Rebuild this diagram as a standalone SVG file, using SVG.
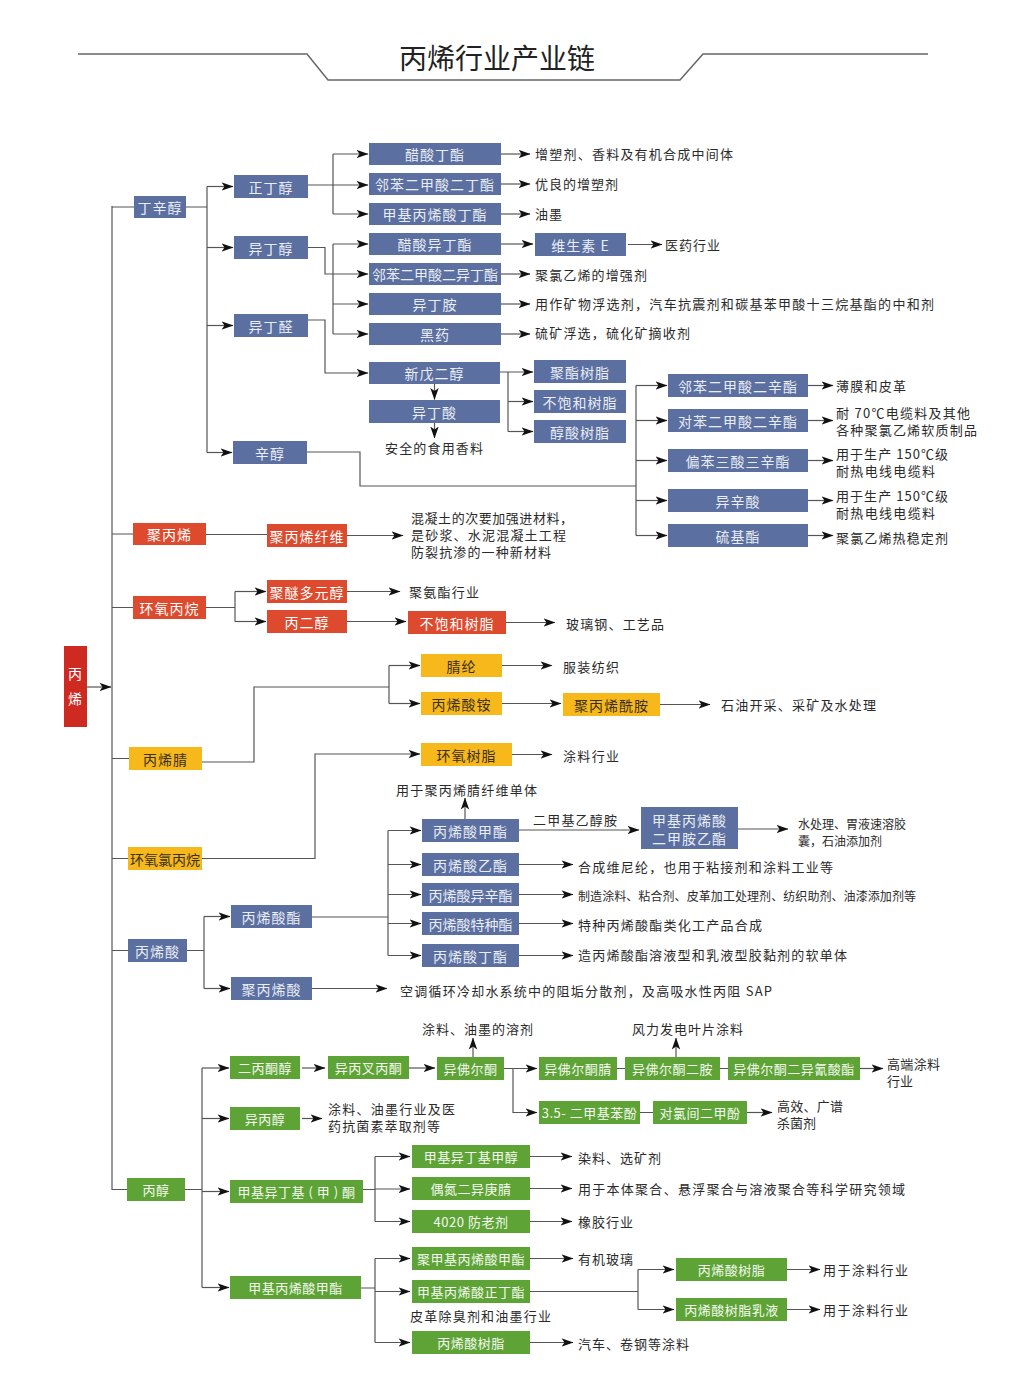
<svg xmlns="http://www.w3.org/2000/svg" width="1022" height="1400" viewBox="0 0 1022 1400">
<style>
text{font-family:"Noto Sans CJK SC","Noto Sans",sans-serif}
.nb rect{fill:#5b6fa0}.nb text{fill:#e9edf6}
.nr rect{fill:#de4a2d}.nr text{fill:#fff}
.ny rect{fill:#f6b81a}.ny text{fill:#3b3020}
.ng rect{fill:#5ea336}.ng text{fill:#f4faef}
.t{font-size:14px;text-anchor:middle;dominant-baseline:central;letter-spacing:1px}
.ng .t{font-size:13px;letter-spacing:0.5px}
.d{font-size:13px;fill:#2a2a2a;dominant-baseline:central}
.s{font-size:12px}
#connectors path{stroke:#555;stroke-width:1.2;fill:none}
#connectors .a{marker-end:url(#ah)}
</style>
<defs>
<marker id="ah" viewBox="0 0 12 10" refX="11.5" refY="5" markerWidth="12" markerHeight="10" markerUnits="userSpaceOnUse" orient="auto">
<path d="M0,0.8 L12,5 L0,9.2 L3,5 z" fill="#111"/>
</marker>
</defs>
<rect width="1022" height="1400" fill="#fff"/>
<g id="title">
<polyline points="78,54 307,54 328,80 680,80 703,54 928,54" fill="none" stroke="#666" stroke-width="1.5"/>
<text x="497" y="57" font-size="28" text-anchor="middle" dominant-baseline="central" fill="#222">丙烯行业产业链</text>
</g>
<g id="connectors">
<path class="a" d="M87,687 H111"/>
<path d="M112,206 V1190"/>
<path d="M112,207 H134 M112,534 H133 M112,607.5 H133 M112,758.5 H129 M112,858.5 H128 M112,950.5 H128 M112,1189.5 H127"/>
<path d="M186,207 H207 M207,186.5 V452.5"/>
<path class="a" d="M207,186.5 H233"/><path class="a" d="M207,247.5 H233"/><path class="a" d="M207,325.5 H233"/><path class="a" d="M207,452.5 H232"/>
<path class="a" d="M308,185 H368"/><path d="M333,154 V214"/><path class="a" d="M333,154 H368"/><path class="a" d="M333,214 H368"/>
<path class="a" d="M308,247.5 H325 V274 H368"/><path d="M333,244 V334"/><path class="a" d="M333,244 H368"/><path class="a" d="M333,304 H368"/><path class="a" d="M333,334 H368"/>
<path class="a" d="M308,320 H325 V373 H368"/>
<path class="a" d="M434.5,384 V399.5"/><path class="a" d="M434.5,423 V438"/>
<path class="a" d="M500,372 H533"/><path d="M508,372 V431.5"/><path class="a" d="M508,401.5 H533"/><path class="a" d="M508,431.5 H533"/>
<path d="M307,452 H360 V486 H636 M636,385.5 V535.5"/>
<path class="a" d="M636,385.5 H667"/><path class="a" d="M636,420.5 H667"/><path class="a" d="M636,460.5 H667"/><path class="a" d="M636,500.5 H667"/><path class="a" d="M636,535.5 H667"/>
<path class="a" d="M808,385.5 H833"/><path class="a" d="M808,420.5 H833"/><path class="a" d="M808,460.5 H833"/><path class="a" d="M808,500.5 H833"/><path class="a" d="M808,535.5 H833"/>
<path class="a" d="M501,154 H530"/><path class="a" d="M501,184 H530"/><path class="a" d="M501,214 H530"/><path class="a" d="M501,244 H533"/><path class="a" d="M501,274 H530"/><path class="a" d="M501,304 H530"/><path class="a" d="M501,334 H530"/>
<path class="a" d="M628,244.5 H662"/>
<path d="M206,534.5 H267"/><path class="a" d="M347,535.5 H403"/>
<path d="M206,607.5 H235 M235,591.5 V621.5"/><path class="a" d="M235,591.5 H266"/><path class="a" d="M235,621.5 H266"/>
<path class="a" d="M347,591.5 H400"/><path class="a" d="M347,621.5 H406"/><path class="a" d="M506,622.5 H555"/>
<path d="M202,762 H254 V687 H389 M389,665.5 V703.5"/><path class="a" d="M389,665.5 H420"/><path class="a" d="M389,703.5 H420"/>
<path class="a" d="M502,665.5 H552"/><path class="a" d="M502,703.5 H561"/><path class="a" d="M660,704.5 H710"/>
<path class="a" d="M202,858.5 H315 V754 H420"/><path class="a" d="M512,754.5 H552"/>
<path d="M187,950.5 H204 M204,916.5 V988.5"/><path class="a" d="M204,916.5 H230"/><path class="a" d="M204,988.5 H230"/>
<path d="M312,917 H388 M388,830.5 V955.5"/>
<path class="a" d="M388,830.5 H421"/><path class="a" d="M388,864.5 H421"/><path class="a" d="M388,894.5 H421"/><path class="a" d="M388,923.5 H421"/><path class="a" d="M388,955.5 H421"/>
<path class="a" d="M465,819 V798"/>
<path class="a" d="M519,830 H639"/><path class="a" d="M738,829 H788"/>
<path class="a" d="M519,864.5 H573"/><path class="a" d="M519,894.5 H573"/><path class="a" d="M519,923.5 H573"/><path class="a" d="M519,955.5 H573"/>
<path class="a" d="M312,988.5 H387"/>
<path d="M185,1189.5 H202 M202,1068 V1287.5"/>
<path class="a" d="M202,1068 H229"/><path class="a" d="M202,1118.5 H229"/><path class="a" d="M202,1191.5 H229"/><path class="a" d="M202,1287.5 H229"/>
<path class="a" d="M302,1068 H325"/><path class="a" d="M409,1068 H435"/>
<path class="a" d="M473,1057 V1038"/>
<path class="a" d="M504,1068.5 H537"/><path class="a" d="M513,1068.5 V1112.5 H537"/>
<path d="M617,1068.5 H625 M720,1068.5 H728 M640,1112.5 H653"/>
<path class="a" d="M676,1057 V1038"/>
<path class="a" d="M860,1068.5 H883"/><path class="a" d="M747,1112.5 H772"/>
<path class="a" d="M302,1118.5 H322"/>
<path d="M363,1189.5 H375 M375,1156.5 V1221.5"/>
<path class="a" d="M375,1156.5 H410"/><path class="a" d="M375,1189 H410"/><path class="a" d="M375,1221.5 H410"/>
<path class="a" d="M530,1156.5 H572"/><path class="a" d="M530,1188.5 H572"/><path class="a" d="M530,1221.5 H572"/>
<path d="M361,1288 H375 M375,1258.5 V1342.5"/>
<path class="a" d="M375,1258.5 H410"/><path class="a" d="M375,1291.5 H410"/><path class="a" d="M375,1342.5 H410"/>
<path class="a" d="M530,1258.5 H573"/><path class="a" d="M530,1342.5 H573"/>
<path d="M530,1291.5 H638 M638,1269.5 V1309.5"/><path class="a" d="M638,1269.5 H674"/><path class="a" d="M638,1309.5 H674"/>
<path class="a" d="M787,1269.5 H820"/><path class="a" d="M787,1309.5 H820"/>
</g>
<g id="n-propylene"><rect x="64" y="646" width="23" height="81" fill="#cf2a22"/><text class="t" x="75.5" y="673" fill="#fff">丙</text><text class="t" x="75.5" y="698" fill="#fff">烯</text></g>
<g id="n-dxc" class="nb"><rect x="134" y="196" width="52" height="22"/><text class="t" x="160" y="207">丁辛醇</text></g>
<g id="n-zdc" class="nb"><rect x="234" y="175" width="74" height="23"/><text class="t" x="271" y="186.5">正丁醇</text></g>
<g id="n-ydc" class="nb"><rect x="234" y="236" width="74" height="23"/><text class="t" x="271" y="247.5">异丁醇</text></g>
<g id="n-ydq" class="nb"><rect x="234" y="314" width="74" height="23"/><text class="t" x="271" y="325.5">异丁醛</text></g>
<g id="n-xc" class="nb"><rect x="233" y="441" width="74" height="23"/><text class="t" x="270" y="452.5">辛醇</text></g>
<g id="n-csdz" class="nb"><rect x="369" y="143" width="132" height="22"/><text class="t" x="435" y="154">醋酸丁酯</text></g>
<g id="n-lbdb" class="nb"><rect x="369" y="173" width="132" height="22"/><text class="t" x="435" y="184">邻苯二甲酸二丁酯</text></g>
<g id="n-jbbd" class="nb"><rect x="369" y="203" width="132" height="22"/><text class="t" x="435" y="214">甲基丙烯酸丁酯</text></g>
<g id="n-csyd" class="nb"><rect x="369" y="233" width="132" height="22"/><text class="t" x="435" y="244">醋酸异丁酯</text></g>
<g id="n-lbdyd" class="nb"><rect x="369" y="263" width="132" height="22"/><text class="t" x="435" y="274" style="letter-spacing:0">邻苯二甲酸二异丁酯</text></g>
<g id="n-yda" class="nb"><rect x="369" y="293" width="132" height="22"/><text class="t" x="435" y="304">异丁胺</text></g>
<g id="n-hy" class="nb"><rect x="369" y="323" width="132" height="22"/><text class="t" x="435" y="334">黑药</text></g>
<g id="n-xwec" class="nb"><rect x="369" y="362" width="131" height="22"/><text class="t" x="434.5" y="373">新戊二醇</text></g>
<g id="n-yds" class="nb"><rect x="369" y="400" width="131" height="23"/><text class="t" x="434.5" y="411.5">异丁酸</text></g>
<g id="n-wse" class="nb"><rect x="535" y="233" width="91" height="23"/><text class="t" x="580.5" y="244.5">维生素 E</text></g>
<g id="n-jzsz" class="nb"><rect x="534" y="360" width="92" height="23"/><text class="t" x="580" y="371.5">聚酯树脂</text></g>
<g id="n-bbh1" class="nb"><rect x="534" y="390" width="92" height="23"/><text class="t" x="580" y="401.5">不饱和树脂</text></g>
<g id="n-csh" class="nb"><rect x="534" y="420" width="92" height="23"/><text class="t" x="580" y="431.5">醇酸树脂</text></g>
<g id="n-dop" class="nb"><rect x="668" y="374" width="140" height="23"/><text class="t" x="738" y="385.5">邻苯二甲酸二辛酯</text></g>
<g id="n-dotp" class="nb"><rect x="668" y="409" width="140" height="23"/><text class="t" x="738" y="420.5">对苯二甲酸二辛酯</text></g>
<g id="n-totm" class="nb"><rect x="668" y="449" width="140" height="23"/><text class="t" x="738" y="460.5">偏苯三酸三辛酯</text></g>
<g id="n-yxs" class="nb"><rect x="668" y="489" width="140" height="23"/><text class="t" x="738" y="500.5">异辛酸</text></g>
<g id="n-ljz" class="nb"><rect x="668" y="524" width="140" height="23"/><text class="t" x="738" y="535.5">硫基酯</text></g>
<g id="n-jbx" class="nr"><rect x="133" y="523" width="73" height="22"/><text class="t" x="169.5" y="534">聚丙烯</text></g>
<g id="n-jbxxw" class="nr"><rect x="267" y="524" width="80" height="23"/><text class="t" x="307" y="535.5">聚丙烯纤维</text></g>
<g id="n-hybw" class="nr"><rect x="133" y="596" width="73" height="23"/><text class="t" x="169.5" y="607.5">环氧丙烷</text></g>
<g id="n-jmdy" class="nr"><rect x="267" y="580" width="80" height="23"/><text class="t" x="307" y="591.5">聚醚多元醇</text></g>
<g id="n-bec" class="nr"><rect x="267" y="610" width="80" height="23"/><text class="t" x="307" y="621.5">丙二醇</text></g>
<g id="n-bbh2" class="nr"><rect x="408" y="611" width="98" height="23"/><text class="t" x="457" y="622.5">不饱和树脂</text></g>
<g id="n-bxj" class="ny"><rect x="129" y="747" width="73" height="23"/><text class="t" x="165.5" y="758.5">丙烯腈</text></g>
<g id="n-hylbw" class="ny"><rect x="128" y="847" width="74" height="23"/><text class="t" x="165" y="858.5" style="letter-spacing:0">环氧氯丙烷</text></g>
<g id="n-jl" class="ny"><rect x="421" y="654" width="81" height="23"/><text class="t" x="461.5" y="665.5">腈纶</text></g>
<g id="n-bxsa" class="ny"><rect x="421" y="692" width="81" height="23"/><text class="t" x="461.5" y="703.5">丙烯酸铵</text></g>
<g id="n-jbxxa" class="ny"><rect x="563" y="693" width="97" height="23"/><text class="t" x="611.5" y="704.5">聚丙烯酰胺</text></g>
<g id="n-hysz" class="ny"><rect x="421" y="743" width="91" height="23"/><text class="t" x="466.5" y="754.5">环氧树脂</text></g>
<g id="n-bxs" class="nb"><rect x="128" y="939" width="59" height="23"/><text class="t" x="157.5" y="950.5">丙烯酸</text></g>
<g id="n-bxsz" class="nb"><rect x="231" y="905" width="81" height="23"/><text class="t" x="271.5" y="916.5">丙烯酸酯</text></g>
<g id="n-jbxs" class="nb"><rect x="231" y="977" width="81" height="23"/><text class="t" x="271.5" y="988.5">聚丙烯酸</text></g>
<g id="n-bxsjz" class="nb"><rect x="422" y="819" width="97" height="23"/><text class="t" x="470.5" y="830.5">丙烯酸甲酯</text></g>
<g id="n-bxsyz" class="nb"><rect x="422" y="853" width="97" height="23"/><text class="t" x="470.5" y="864.5">丙烯酸乙酯</text></g>
<g id="n-bxsyxz" class="nb"><rect x="422" y="883" width="97" height="23"/><text class="t" x="470.5" y="894.5" style="letter-spacing:0">丙烯酸异辛酯</text></g>
<g id="n-bxstzz" class="nb"><rect x="422" y="912" width="97" height="23"/><text class="t" x="470.5" y="923.5" style="letter-spacing:0">丙烯酸特种酯</text></g>
<g id="n-bxsdz" class="nb"><rect x="422" y="944" width="97" height="23"/><text class="t" x="470.5" y="955.5">丙烯酸丁酯</text></g>
<g id="n-dmaema" class="nb"><rect x="641" y="807" width="97" height="42"/><text class="t" x="689.5" y="819.5">甲基丙烯酸</text><text class="t" x="689.5" y="837.5">二甲胺乙酯</text></g>
<g id="n-bc" class="ng"><rect x="127" y="1178" width="58" height="23"/><text class="t" x="156" y="1189.5">丙醇</text></g>
<g id="n-ebtc" class="ng"><rect x="230" y="1056" width="70" height="23"/><text class="t" x="265" y="1067.5">二丙酮醇</text></g>
<g id="n-ybc" class="ng"><rect x="230" y="1107" width="70" height="23"/><text class="t" x="265" y="1118.5">异丙醇</text></g>
<g id="n-mibk" class="ng"><rect x="230" y="1180" width="133" height="23"/><text class="t" x="296.5" y="1191.5">甲基异丁基 ( 甲 ) 酮</text></g>
<g id="n-mma" class="ng"><rect x="230" y="1276" width="131" height="23"/><text class="t" x="295.5" y="1287.5">甲基丙烯酸甲酯</text></g>
<g id="n-ybcbt" class="ng"><rect x="328" y="1056" width="81" height="23"/><text class="t" x="368.5" y="1067.5">异丙叉丙酮</text></g>
<g id="n-yfet" class="ng"><rect x="437" y="1057" width="67" height="23"/><text class="t" x="470.5" y="1068.5">异佛尔酮</text></g>
<g id="n-yfetj" class="ng"><rect x="539" y="1057" width="78" height="23"/><text class="t" x="578" y="1068.5">异佛尔酮腈</text></g>
<g id="n-yfeta" class="ng"><rect x="625" y="1057" width="95" height="23"/><text class="t" x="672.5" y="1068.5">异佛尔酮二胺</text></g>
<g id="n-ipdi" class="ng"><rect x="728" y="1057" width="132" height="23"/><text class="t" x="794" y="1068.5">异佛尔酮二异氰酸酯</text></g>
<g id="n-dmp" class="ng"><rect x="539" y="1101" width="101" height="23"/><text class="t" x="589.5" y="1112.5">3.5- 二甲基苯酚</text></g>
<g id="n-pcmx" class="ng"><rect x="653" y="1101" width="94" height="23"/><text class="t" x="700" y="1112.5">对氯间二甲酚</text></g>
<g id="n-mibc" class="ng"><rect x="412" y="1145" width="118" height="23"/><text class="t" x="471" y="1156.5">甲基异丁基甲醇</text></g>
<g id="n-amvn" class="ng"><rect x="412" y="1177" width="118" height="23"/><text class="t" x="471" y="1188.5">偶氮二异庚腈</text></g>
<g id="n-4020" class="ng"><rect x="412" y="1210" width="118" height="23"/><text class="t" x="471" y="1221.5">4020 防老剂</text></g>
<g id="n-pmma" class="ng"><rect x="412" y="1247" width="118" height="23"/><text class="t" x="471" y="1258.5">聚甲基丙烯酸甲酯</text></g>
<g id="n-bma" class="ng"><rect x="412" y="1280" width="118" height="23"/><text class="t" x="471" y="1291.5">甲基丙烯酸正丁酯</text></g>
<g id="n-ar1" class="ng"><rect x="412" y="1331" width="118" height="23"/><text class="t" x="471" y="1342.5">丙烯酸树脂</text></g>
<g id="n-ar2" class="ng"><rect x="676" y="1258" width="111" height="23"/><text class="t" x="731.5" y="1269.5">丙烯酸树脂</text></g>
<g id="n-are" class="ng"><rect x="676" y="1298" width="111" height="23"/><text class="t" x="731.5" y="1309.5">丙烯酸树脂乳液</text></g>
<g id="labels">
<text class="d" x="535" y="153" textLength="198">增塑剂、香料及有机合成中间体</text>
<text class="d" x="535" y="183" textLength="83">优良的增塑剂</text>
<text class="d" x="535" y="213" textLength="27">油墨</text>
<text class="d" x="665" y="244" textLength="55">医药行业</text>
<text class="d" x="535" y="274" textLength="112">聚氯乙烯的增强剂</text>
<text class="d" x="535" y="303" textLength="399">用作矿物浮选剂，汽车抗震剂和碳基苯甲酸十三烷基酯的中和剂</text>
<text class="d" x="535" y="332" textLength="155">硫矿浮选，硫化矿摘收剂</text>
<text class="d" x="385" y="447" textLength="98">安全的食用香料</text>
<text class="d" x="836" y="385" textLength="70">薄膜和皮革</text>
<text class="d" x="836" y="412" textLength="134">耐 70℃电缆料及其他</text>
<text class="d" x="836" y="429" textLength="141">各种聚氯乙烯软质制品</text>
<text class="d" x="836" y="453" textLength="112">用于生产 150℃级</text>
<text class="d" x="836" y="470" textLength="99">耐热电线电缆料</text>
<text class="d" x="836" y="495" textLength="112">用于生产 150℃级</text>
<text class="d" x="836" y="512" textLength="99">耐热电线电缆料</text>
<text class="d" x="836" y="537" textLength="112">聚氯乙烯热稳定剂</text>
<text class="d" x="411" y="517" textLength="162">混凝土的次要加强进材料，</text>
<text class="d" x="411" y="534" textLength="155">是砂浆、水泥混凝土工程</text>
<text class="d" x="411" y="551" textLength="140">防裂抗渗的一种新材料</text>
<text class="d" x="409" y="591" textLength="70">聚氨酯行业</text>
<text class="d" x="566" y="623" textLength="98">玻璃钢、工艺品</text>
<text class="d" x="563" y="666" textLength="56">服装纺织</text>
<text class="d" x="721" y="704" textLength="155">石油开采、采矿及水处理</text>
<text class="d" x="563" y="755" textLength="56">涂料行业</text>
<text class="d" x="396" y="789" textLength="141">用于聚丙烯腈纤维单体</text>
<text class="d" x="533" y="819" textLength="84">二甲基乙醇胺</text>
<text class="d s" x="798" y="823" textLength="108">水处理、胃液速溶胶</text>
<text class="d s" x="798" y="840" textLength="84">囊，石油添加剂</text>
<text class="d" x="578" y="866" textLength="255">合成维尼纶，也用于粘接剂和涂料工业等</text>
<text class="d s" x="578" y="895" textLength="338">制造涂料、粘合剂、皮革加工处理剂、纺织助剂、油漆添加剂等</text>
<text class="d" x="578" y="924" textLength="184">特种丙烯酸酯类化工产品合成</text>
<text class="d" x="578" y="954" textLength="269">造丙烯酸酯溶液型和乳液型胶黏剂的软单体</text>
<text class="d" x="400" y="990" textLength="372">空调循环冷却水系统中的阻垢分散剂，及高吸水性丙阻 SAP</text>
<text class="d" x="422" y="1028" textLength="111">涂料、油墨的溶剂</text>
<text class="d" x="632" y="1028" textLength="111">风力发电叶片涂料</text>
<text class="d" x="887" y="1063" textLength="53">高端涂料</text>
<text class="d" x="887" y="1080" textLength="26">行业</text>
<text class="d" x="328" y="1108" textLength="127">涂料、油墨行业及医</text>
<text class="d" x="328" y="1125" textLength="112">药抗菌素萃取剂等</text>
<text class="d" x="777" y="1105" textLength="66">高效、广谱</text>
<text class="d" x="777" y="1122" textLength="39">杀菌剂</text>
<text class="d" x="578" y="1157" textLength="83">染料、选矿剂</text>
<text class="d" x="578" y="1188" textLength="327">用于本体聚合、悬浮聚合与溶液聚合等科学研究领域</text>
<text class="d" x="578" y="1221" textLength="55">橡胶行业</text>
<text class="d" x="578" y="1258" textLength="55">有机玻璃</text>
<text class="d" x="410" y="1315" textLength="141">皮革除臭剂和油墨行业</text>
<text class="d" x="578" y="1343" textLength="111">汽车、卷钢等涂料</text>
<text class="d" x="823" y="1269" textLength="85">用于涂料行业</text>
<text class="d" x="823" y="1309" textLength="85">用于涂料行业</text>
</g>
</svg>
